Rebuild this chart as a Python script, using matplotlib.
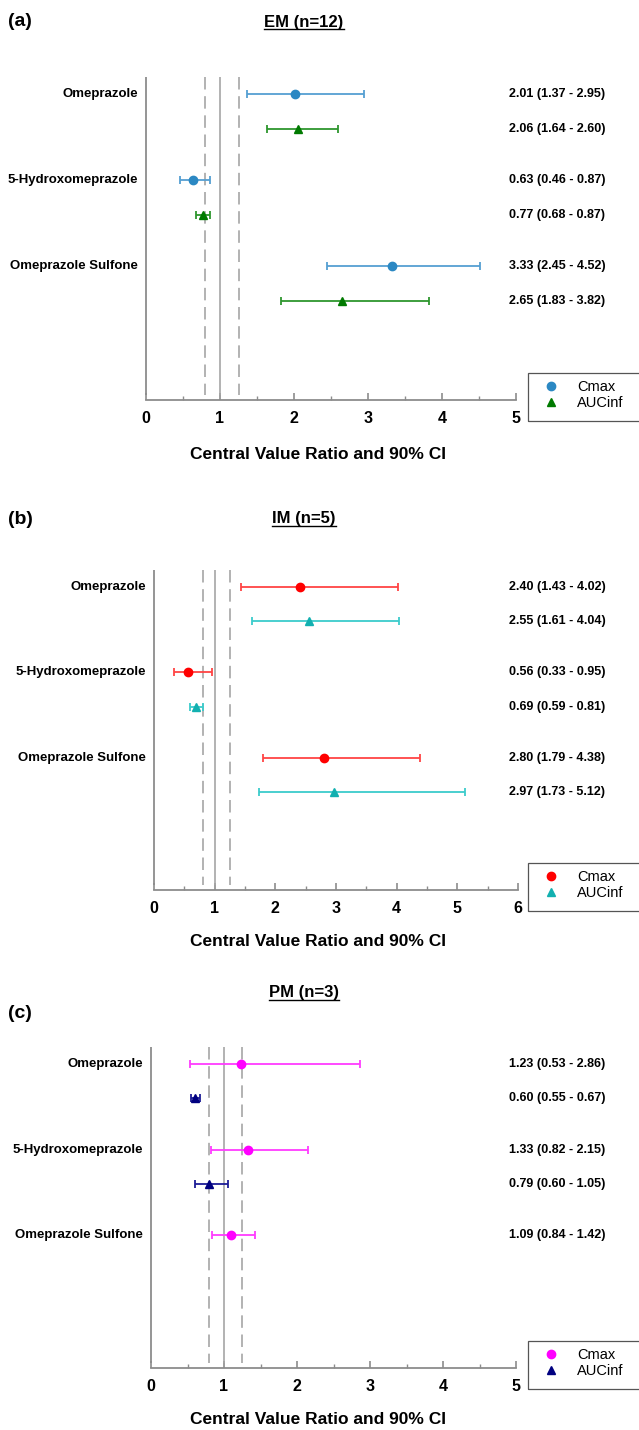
import numpy as np
import matplotlib
matplotlib.use("Agg")
import matplotlib.pyplot as plt
from matplotlib import transforms
from matplotlib.lines import Line2D
from matplotlib.patches import Rectangle

plt.rcParams["font.family"] = ["Liberation Sans", "DejaVu Sans"]

# ---- data: central value ratio and 90% CI ----
compounds = ["Omeprazole", "5-Hydroxomeprazole", "Omeprazole Sulfone"]

em_cmax = [2.01, 0.63, 3.33]
em_cmax_lo = [1.37, 0.46, 2.45]
em_cmax_hi = [2.95, 0.87, 4.52]
em_auc = [2.06, 0.77, 2.65]
em_auc_lo = [1.64, 0.68, 1.83]
em_auc_hi = [2.60, 0.87, 3.82]

im_cmax = [2.40, 0.56, 2.80]
im_cmax_lo = [1.43, 0.33, 1.79]
im_cmax_hi = [4.02, 0.95, 4.38]
im_auc = [2.55, 0.69, 2.97]
im_auc_lo = [1.61, 0.59, 1.73]
im_auc_hi = [4.04, 0.81, 5.12]

pm_cmax = [1.23, 1.33, 1.09]
pm_cmax_lo = [0.53, 0.82, 0.84]
pm_cmax_hi = [2.86, 2.15, 1.42]
pm_auc = [0.60, 0.79, np.nan]
pm_auc_lo = [0.55, 0.60, np.nan]
pm_auc_hi = [0.67, 1.05, np.nan]

W, H = 639, 1430
fig = plt.figure(figsize=(W / 100, H / 100), dpi=100)

GRAY = "#8c8c8c"
AUC_OFF = 0.4          # offset of the AUCinf row below the Cmax row
YTOP, YBOT = -0.2, 3.55


def fx(px):
    return px / W


def fy(py):
    return 1 - py / H


def panel(tag, title, xmax, box, cmax, cmax_lo, cmax_hi, auc, auc_lo, auc_hi,
          c_cmax, c_auc, title_y, tag_y, xlabel_y):
    left, top, right, bottom = box
    ax = fig.add_axes([fx(left), fy(bottom), fx(right) - fx(left),
                       fy(top) - fy(bottom)])
    ax.set_xlim(0, xmax)
    ax.set_ylim(YBOT, YTOP)

    for s in ["top", "right", "left"]:
        ax.spines[s].set_visible(False)
    ax.spines["bottom"].set_color(GRAY)
    ax.spines["bottom"].set_linewidth(1.3)
    ax.set_yticks([])

    # y axis stops just above the x axis, like the reference lines
    ybot_line = YBOT - 0.06
    ax.vlines(0, YTOP, ybot_line, color=GRAY, lw=1.3, clip_on=False)
    ax.vlines(1.0, YTOP, ybot_line, color="#a6a6a6", lw=1.2)
    ax.vlines([0.8, 1.25], YTOP, ybot_line, color="#a6a6a6", lw=1.2,
              linestyles=(0, (7.5, 4)))

    ax.set_xticks(np.arange(0, xmax + 1))
    ax.set_xticklabels([str(v) for v in range(xmax + 1)], fontweight="bold",
                       fontsize=11.5)
    ax.set_xticks(np.arange(0.5, xmax, 1.0), minor=True)
    ax.tick_params(axis="x", which="major", direction="in", length=5,
                   width=1.2, color=GRAY, pad=8)
    ax.tick_params(axis="x", which="minor", direction="in", length=3,
                   width=1.0, color=GRAY)

    ypos = np.arange(len(compounds))
    cmax = np.array(cmax); auc = np.array(auc)
    ax.errorbar(cmax, ypos,
                xerr=[cmax - np.array(cmax_lo), np.array(cmax_hi) - cmax],
                fmt="none", ecolor=c_cmax[0], elinewidth=1.3, capsize=3,
                capthick=1.3)
    ax.plot(cmax, ypos, "o", color=c_cmax[1], ms=6, label="Cmax")
    ax.errorbar(auc, ypos + AUC_OFF,
                xerr=[auc - np.array(auc_lo), np.array(auc_hi) - auc],
                fmt="none", ecolor=c_auc[0], elinewidth=1.3, capsize=3,
                capthick=1.3)
    ax.plot(auc, ypos + AUC_OFF, "^", color=c_auc[1], ms=6, label="AUCinf")

    # compound names
    for y, name in zip(ypos, compounds):
        ax.annotate(name, xy=(0, y), xycoords=("axes fraction", "data"),
                    xytext=(-6, 0), textcoords="offset points", ha="right",
                    va="center", fontsize=9.5, fontweight="bold")

    # ratio (CI) texts on the right
    tr = transforms.blended_transform_factory(fig.transFigure, ax.transData)
    for y, v, lo, hi in zip(ypos, cmax, cmax_lo, cmax_hi):
        ax.text(fx(509), y, f"{v:.2f} ({lo:.2f} - {hi:.2f})", transform=tr,
                ha="left", va="center", fontsize=9, fontweight="bold")
    for y, v, lo, hi in zip(ypos + AUC_OFF, auc, auc_lo, auc_hi):
        if np.isnan(v):
            continue
        ax.text(fx(509), y, f"{v:.2f} ({lo:.2f} - {hi:.2f})", transform=tr,
                ha="left", va="center", fontsize=9, fontweight="bold")

    # legend box runs off the right edge of the figure
    fig.add_artist(Rectangle((fx(528), fy(bottom + 21)), fx(130), 48 / H,
                             transform=fig.transFigure, fill=False,
                             edgecolor="#555555", lw=0.9))
    ax.legend(loc="upper left", bbox_to_anchor=(fx(528), fy(bottom - 27)),
              bbox_transform=fig.transFigure, borderaxespad=0,
              fontsize=10.5, frameon=False, borderpad=0.5,
              handlelength=2.2, handletextpad=0.65, labelspacing=0.15)

    fig.text(fx(318), fy(xlabel_y), "Central Value Ratio and 90% CI",
             ha="center", va="center", fontsize=12.5, fontweight="bold")
    fig.text(fx(8), fy(tag_y), tag, ha="left", va="center", fontsize=14,
             fontweight="bold")
    t = fig.text(fx(304), fy(title_y), title, ha="center", va="center",
                 fontsize=12, fontweight="bold")
    return ax, t


_, t1 = panel("(a)", "EM (n=12)", 5, (146, 77, 516, 400),
              em_cmax, em_cmax_lo, em_cmax_hi, em_auc, em_auc_lo, em_auc_hi,
              ("#559fd2", "#2b88c3"), ("#2e962e", "#007a00"),
              title_y=22, tag_y=22, xlabel_y=455)
_, t2 = panel("(b)", "IM (n=5)", 6, (154, 570, 518, 890),
              im_cmax, im_cmax_lo, im_cmax_hi, im_auc, im_auc_lo, im_auc_hi,
              ("#ff4444", "#ff0000"), ("#3ccccc", "#12b0b0"),
              title_y=519, tag_y=519, xlabel_y=942)
_, t3 = panel("(c)", "PM (n=3)", 5, (151, 1047, 516, 1368),
              pm_cmax, pm_cmax_lo, pm_cmax_hi, pm_auc, pm_auc_lo, pm_auc_hi,
              ("#ff3cff", "#ff00ff"), ("#1c1c96", "#000080"),
              title_y=993, tag_y=1013, xlabel_y=1420)

# underline the panel titles
fig.canvas.draw()
renderer = fig.canvas.get_renderer()
for t in (t1, t2, t3):
    bb = t.get_window_extent(renderer)
    y = (bb.y0 + 1) / H
    fig.add_artist(Line2D([bb.x0 / W, bb.x1 / W], [y, y],
                          transform=fig.transFigure, color="black", lw=1.0))

fig.savefig("out.png", dpi=100)
